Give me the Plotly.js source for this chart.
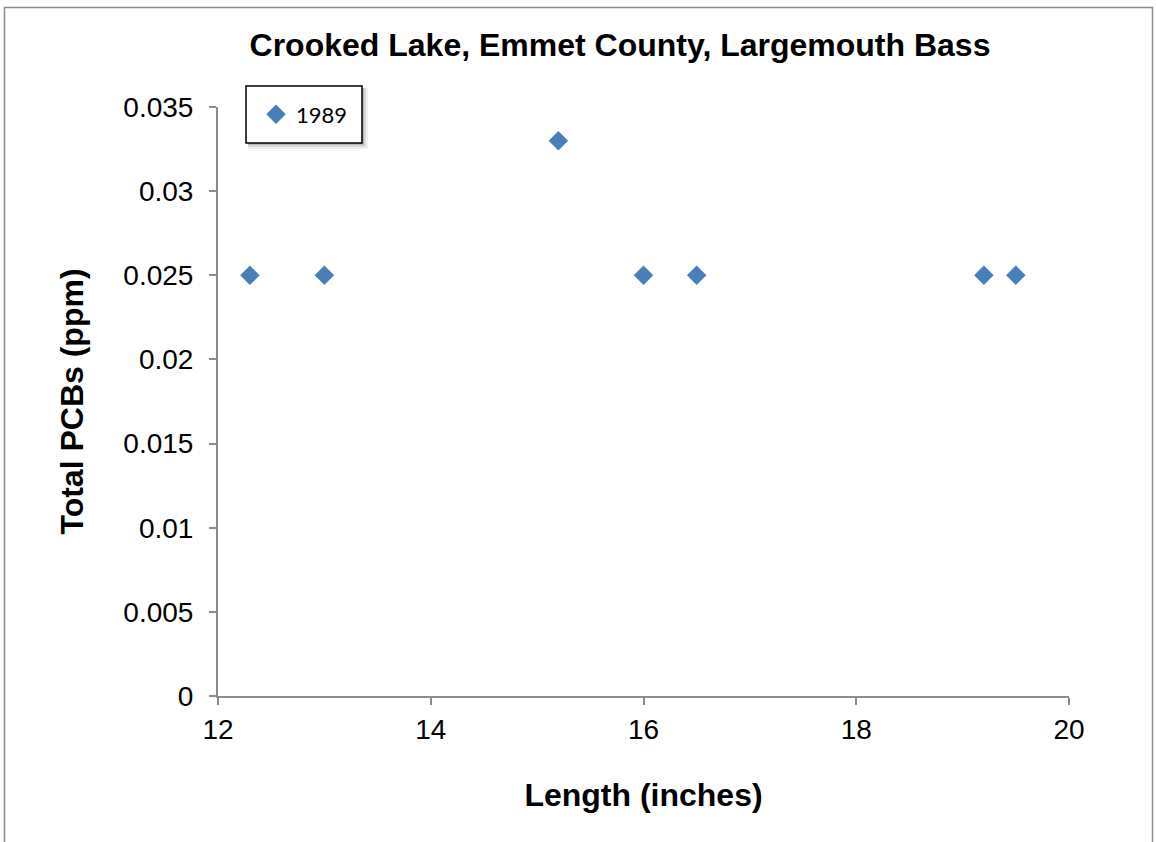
<!DOCTYPE html>
<html>
<head>
<meta charset="utf-8">
<script src="https://cdn.plot.ly/plotly-3.0.1.min.js"></script>
<style>
  html, body { margin: 0; padding: 0; background: #fff; }
  #chart { width: 1156px; height: 842px; }
</style>
</head>
<body>
<div id="chart"></div>
<script>
// Data
const seriesName = "1989";
const lengthInches = [12.3, 13.0, 15.2, 16.0, 16.5, 19.2, 19.5];
const totalPCBs = [0.025, 0.025, 0.033, 0.025, 0.025, 0.025, 0.025];
const xTicks = [12, 14, 16, 18, 20];
const yTicks = [0, 0.005, 0.01, 0.015, 0.02, 0.025, 0.03, 0.035];
const yTickLabels = ["0", "0.005", "0.01", "0.015", "0.02", "0.025", "0.03", "0.035"];

const W = 1156, H = 842;
const L = 218, R = 1069, T = 107, B = 696;
const px2x = p => (p - L) / (R - L);
const px2y = p => (B - p) / (B - T);

const trace = {
  type: "scatter",
  mode: "markers",
  name: seriesName,
  x: lengthInches,
  y: totalPCBs,
  marker: { symbol: "diamond", size: 15, color: "#4A7EBB", line: { width: 0 } },
  hoverinfo: "x+y"
};

const FONT = "Liberation Sans, Arial, sans-serif";
const axisFont = { family: FONT, size: 28, color: "#000" };

// legend frame (drawn as shapes so its size matches the reference box)
const box = { x0: 246, x1: 362, y0: 86, y1: 143 };

const layout = {
  width: W, height: H,
  margin: { l: L, r: W - R, t: T, b: H - B, pad: 0 },
  paper_bgcolor: "#fff",
  plot_bgcolor: "#fff",
  showlegend: true,
  title: {
    text: "<b>Crooked Lake, Emmet County, Largemouth Bass</b>",
    font: { family: FONT, size: 32, color: "#000" },
    xref: "container", x: 620 / W, xanchor: "center",
    yref: "container", y: 1 - 45 / H, yanchor: "middle"
  },
  xaxis: {
    range: [12, 20],
    tickvals: xTicks,
    ticktext: xTicks.map(String),
    ticks: "outside", ticklen: 7, tickwidth: 2, tickcolor: "#8C8C8C",
    showline: true, linecolor: "#8C8C8C", linewidth: 2,
    showgrid: false, zeroline: false,
    tickfont: axisFont,
    title: { text: "<b>Length (inches)</b>", font: { family: FONT, size: 32, color: "#000" }, standoff: 40 },
    automargin: false
  },
  yaxis: {
    range: [0, 0.035],
    tickvals: yTicks,
    ticktext: yTickLabels,
    ticks: "outside", ticklen: 7, tickwidth: 2, tickcolor: "#8C8C8C",
    showline: true, linecolor: "#8C8C8C", linewidth: 2,
    showgrid: false, zeroline: false,
    tickfont: axisFont,
    ticklabelstandoff: 10,
    title: { text: "<b>Total PCBs (ppm)</b>", font: { family: FONT, size: 32, color: "#000" }, standoff: 30 },
    automargin: false
  },
  legend: {
    x: px2x(256), y: px2y(114.5), xanchor: "left", yanchor: "middle",
    bgcolor: "rgba(0,0,0,0)", borderwidth: 0,
    font: { family: "Lato, Open Sans, sans-serif", size: 22, color: "#000" },
    itemwidth: 30
  },
  shapes: [
    { type: "rect", xref: "paper", yref: "paper",
      x0: px2x(4.5), x1: px2x(1152.5), y0: px2y(7.5), y1: px2y(860),
      line: { color: "#8C8C8C", width: 1.5 }, fillcolor: "rgba(0,0,0,0)", layer: "below" },
    { type: "rect", xref: "paper", yref: "paper",
      x0: px2x(box.x0 + 2), x1: px2x(box.x1 + 6), y0: px2y(box.y0 + 2), y1: px2y(box.y1 + 6),
      line: { width: 0 }, fillcolor: "rgba(0,0,0,0.06)", layer: "above" },
    { type: "rect", xref: "paper", yref: "paper",
      x0: px2x(box.x0 + 2), x1: px2x(box.x1 + 4), y0: px2y(box.y0 + 2), y1: px2y(box.y1 + 4),
      line: { width: 0 }, fillcolor: "rgba(0,0,0,0.10)", layer: "above" },
    { type: "rect", xref: "paper", yref: "paper",
      x0: px2x(box.x0 + 2), x1: px2x(box.x1 + 2), y0: px2y(box.y0 + 2), y1: px2y(box.y1 + 2),
      line: { width: 0 }, fillcolor: "rgba(0,0,0,0.15)", layer: "above" },
    { type: "rect", xref: "paper", yref: "paper",
      x0: px2x(box.x0), x1: px2x(box.x1), y0: px2y(box.y0), y1: px2y(box.y1),
      line: { color: "#000", width: 1.5 }, fillcolor: "#fff", layer: "above" }
  ]
};

Plotly.newPlot("chart", [trace], layout, { displayModeBar: false });
</script>
</body>
</html>
